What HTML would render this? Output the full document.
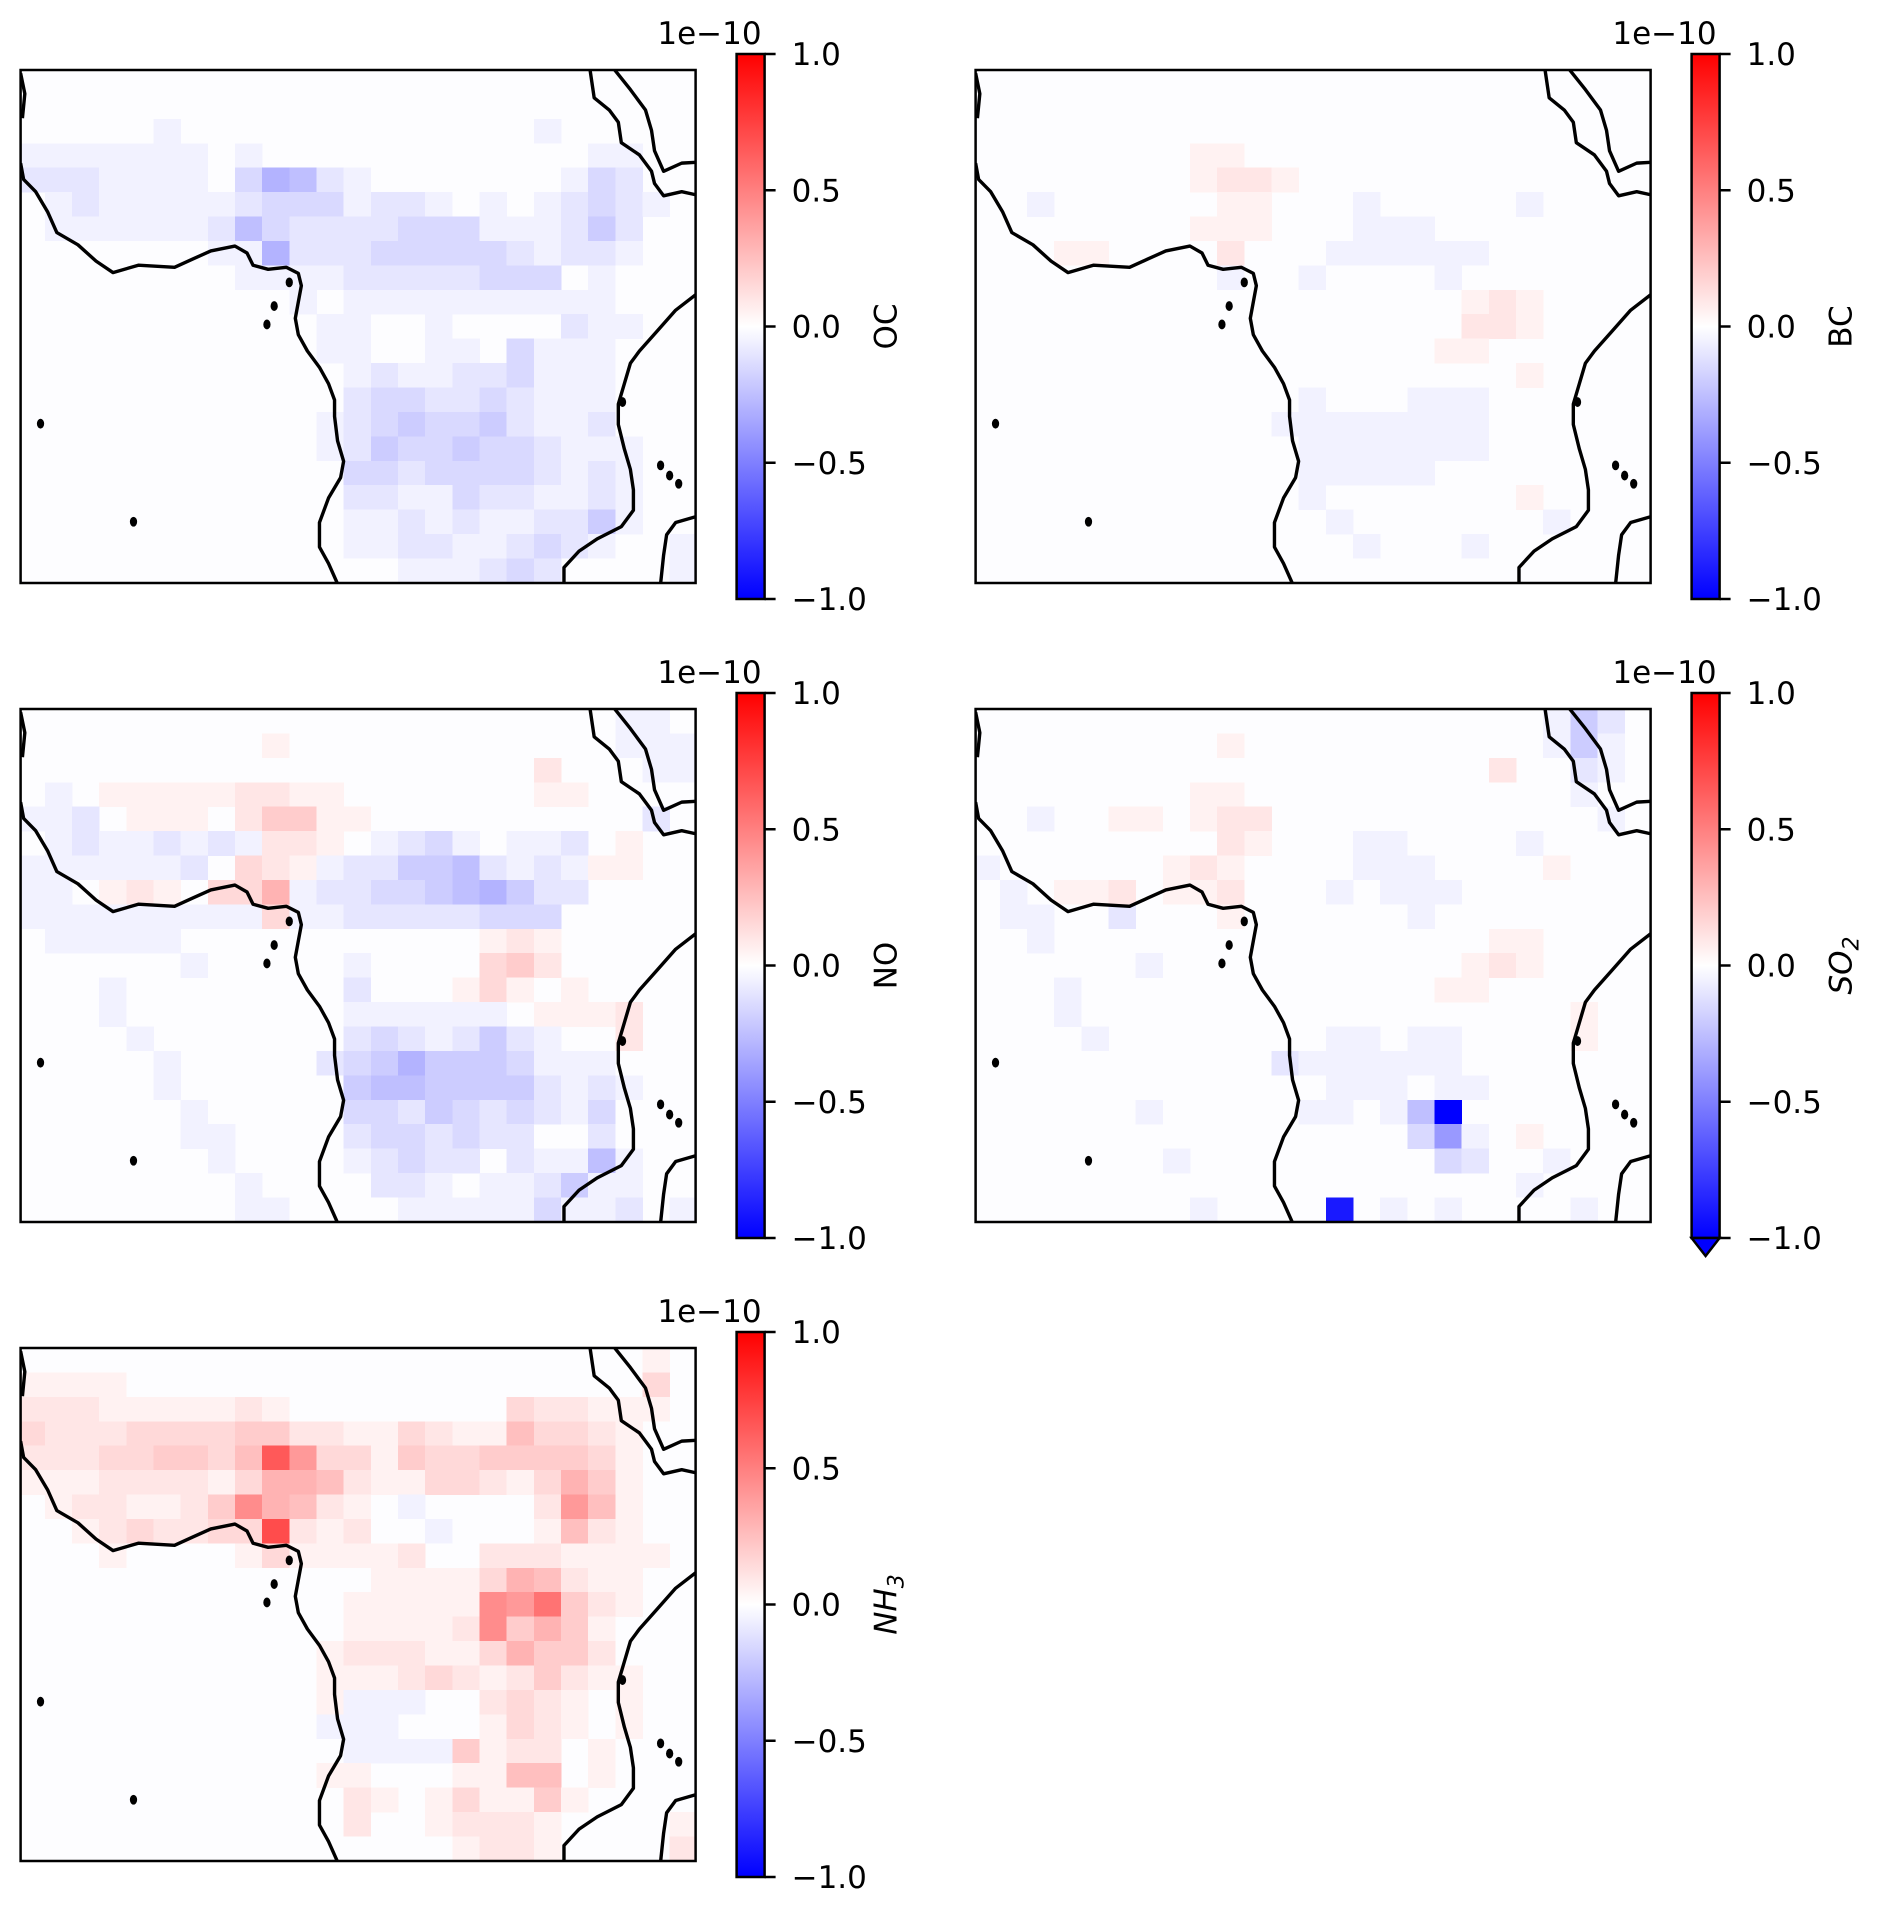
<!DOCTYPE html>
<html><head><meta charset="utf-8"><title>Emission difference maps</title>
<style>
html,body{margin:0;padding:0;background:#fff;}
svg{display:block;font-family:"DejaVu Sans","Liberation Sans",sans-serif;}
</style></head>
<body>
<svg id="fig" xmlns="http://www.w3.org/2000/svg" width="1892" height="1908" viewBox="0 0 1892 1908">
<defs>
<linearGradient id="bwr" x1="0" y1="0" x2="0" y2="1">
<stop offset="0" stop-color="#ff0000"/><stop offset="0.5" stop-color="#ffffff"/><stop offset="1" stop-color="#0000ff"/>
</linearGradient>
</defs>
</svg>
<script>
// Levels: '0' zero, '1'-'9' positive, 'A'-'K' positive 10-20, 'a'-'t' negative 1-20; unit = 0.05e-10
const levelStep = 0.05;
const tickValues = [1.0, 0.5, 0.0, -0.5, -1.0];
const tickLabels = ["1.0", "0.5", "0.0", "\u22120.5", "\u22121.0"];

const ocRows = [
"0000000000000000000000000","0000000000000000000000000","00000a0000000000000a00000",
"aaaaaaa0a000000000000aa00","bbbaaaa0cfeba0000000acb00","0abaaaaabcccabba0a0abcba0",
"0aaaaaabecbbbbcccaaabdb00","0000000aafbbbcccccbabba00","00000000aaaabbbbbccc0a000",
"0000000000a0aaaaaaaaaa000","00000000000aa00a0000baa00","00000000000aa00aa0caaa000",
"000000000000abaabbcaaa000","000000000000bccbbcbaaa000","00000000000abcdccdbaab000",
"00000000000abdccdccbaaa00","000000000000ccbccccbaba00","000000000000bbaacbbaaba00",
"000000000000aababaabbda00","000000000000aabbaabcba00a","00000000000000aaabcb0000a"];

const bcRows = [
"0000000000000000000000000","0000000000000000000000000","0000000000000000000000000",
"0000000011000000000000000","0000000012210000000000000","00a00000011000a00000a0000",
"00000000111000aaa00000000","0001100002000aaaaaa000000","000000000a00a0000a0000000",
"0000000000000000001210000","0000000000000000002210000","0000000000000000011000000",
"0000000000000000000010000","000000000000a000aaa000000","00000000000aaaaaaaa000000",
"000000000000aaaaaaa000000","000000000000aaaaa00000000","000000000000a000000010000",
"0000000000000a0000000a000","00000000000000a000a000000","0000000000000000000000000"];

const noRows = [
"0000000000000000000000aa0","0000000001000000000000aaa","00000000000000000002000aa",
"0a01111122110000000110000","aab01110244110000000000b0","0abaababa2210abca0aab0100",
"aaaaaab0321abbddebaba1100","aa01210336abbccdefdbb0000","aaaaaaaaa3aabbbbbccc00000",
"0aaaaa0000000000012100000","000000a00000a000034200000","000a00000000b000131010000",
"000a00000000aaaaaa0111200","0000a0000000bcbabdba00200","00000a00000bcdfdddcaaa000",
"00000a000000deeddddbaba00","000000a00000ccbdcbcbac000","000000aa0000bccbcbb00b000",
"0000000a0000abcbb0baaea00","00000000a0000bba0aabdaa00","00000000aa0000aaaaacaab0a"];

const so2Rows = [
"000000000000000000000adb0","000000000100000000000ada0","0000000000000000000200ba0",
"0000000011000000000000a00","00a00110122000000000000a0","00000000021000aa0000a0000",
"a0000001210000aaa00001000","0a01120112000a0aaa0000000","0aa00b0001000000a00000000",
"00a0000000000000000110000","000000a000000000001210000","000a000000000000011000000",
"000a000000000000000000100","0000a00000000aa0aa0000100","00000000000baaaaaa0000000",
"0000000000000aaa0aa000000","000000a00000aa0aet0000000","0000000000000000cha010000",
"0000000a000000000cb00a000","00000000000000000000a0000","00000000a0000r0a0a0000a00"];

const nh3Rows = [
"0000000000000000000000010","1111000000000000000000030","2221111121000000003221110",
"3222333344221132115332100","222334435D833143344443100","1112222136652113321364100",
"01221124965210a0000285100","001232233E21200a000152100","0001000013111120022211110",
"0000000000000111136521100","0000000000001111198B42100","0000000000001111294641000",
"0000000000012221136442000","0000000000011123212421100","000000000001aaa0023210100",
"00000000000aaa00013210100","000000000000aaaa412201000","0000000000011000115501000",
"0000000000002101311410000","0000000000002001222100001","0000000000000000122100002"];

const panelNames = ["oc", "bc", "no", "so2", "nh3"];
const panelLabels = ["OC", "BC", "NO", "SO2", "NH3"];

const NS = "http://www.w3.org/2000/svg";
const fig = document.getElementById("fig");
const AX_W = 675, AX_H = 513, CB_DX = 716, CB_W = 28, CB_DY = -16, CB_H = 545;
const positions = [[20.6,70],[975.6,70],[20.6,709],[975.6,709],[20.6,1348]];
const VB = {x:35, y:172, w:1118, h:1256, col0:30, colW:45, rowH:59.8};

function mk(tag, attrs, parent){
  const e = document.createElementNS(NS, tag);
  for (const k in attrs) e.setAttribute(k, attrs[k]);
  (parent||fig).appendChild(e);
  return e;
}
function decode(ch){
  if (ch >= "0" && ch <= "9") return (+ch) * levelStep;
  if (ch >= "A" && ch <= "K") return (10 + ch.charCodeAt(0) - 65) * levelStep;
  if (ch >= "a" && ch <= "t") return -(1 + ch.charCodeAt(0) - 97) * levelStep;
  return 0;
}
function bwr(v){
  v = Math.max(-1, Math.min(1, v));
  let r,g,b;
  if (v < 0){ r = g = Math.round(255*(1+v)); b = 255; }
  else { r = 255; g = b = Math.round(255*(1-v)); }
  return "rgb("+r+","+g+","+b+")";
}
function colX(c){ return VB.col0 + c*VB.colW; }
function rowY(r){ return VB.y + r*VB.rowH; }
function cbY(top, v){ return top + (1 - v)/2*CB_H; }

const coastLines = [
 [[35,400],[40,440],[60,470],[80,520],[95,570],[130,600],[160,640],[188,668],[230,650],[290,655],[320,635],[350,615],[390,603],[410,620],[420,650],[445,660],[475,655],[495,670],[500,700],[495,740],[490,780],[495,820],[510,860],[530,900],[545,940],[555,980],[555,1020],[560,1080],[570,1130],[565,1170],[545,1220],[530,1280],[530,1340],[545,1380],[560,1430]],
 [[1155,720],[1120,760],[1090,810],[1060,860],[1045,890],[1035,940],[1025,990],[1025,1040],[1035,1100],[1045,1150],[1050,1200],[1050,1250],[1030,1290],[990,1320],[960,1350],[935,1390],[935,1430]],
 [[1155,1265],[1120,1280],[1105,1310],[1100,1360],[1095,1430]],
 [[978,170],[985,240],[1010,270],[1025,300],[1030,350],[1060,380],[1080,420],[1085,450],[1100,480],[1130,470],[1155,478]],
 [[1018,170],[1045,220],[1070,270],[1080,320],[1085,370],[1100,420],[1130,400],[1155,398]],
 [[35,180],[42,230],[38,290]]
];
const islands = [[68,1038],[222,1278],[480,692],[455,750],[443,795],[1095,1140],[1110,1165],[1125,1185],[1032,985]];

const allRows = [ocRows, bcRows, noRows, so2Rows, nh3Rows];
panelNames.forEach(function(name, p){
  const ax = positions[p][0], ay = positions[p][1];
  const rowsData = allRows[p];
  const g = mk("g", {});
  
  
  const map = mk("svg", {x:ax, y:ay, width:AX_W, height:AX_H, viewBox:VB.x+" "+VB.y+" "+VB.w+" "+VB.h, preserveAspectRatio:"none"}, g);
  
  
  mk("rect", {x:VB.x, y:VB.y, width:VB.w, height:VB.h, fill:"#fdfdff"}, map);
  rowsData.forEach(function(row, r){
    for (let c = 0; c < row.length; c++){
      const v = decode(row[c]);
      if (v === 0) continue;
      const cell = mk("rect", {x:colX(c), y:rowY(r), width:VB.colW+0.6, height:VB.rowH+0.6, fill:bwr(v), "shape-rendering":"crispEdges"}, map);
      
      
    }
  });
  coastLines.forEach(function(line){
    const pl = mk("polyline", {points:line.map(function(q){return q.join(",");}).join(" "), fill:"none", stroke:"#000", "stroke-width":"3.4", "vector-effect":"non-scaling-stroke", "stroke-linejoin":"round"}, map);
    
    
  });
  islands.forEach(function(q){
    const el = mk("ellipse", {cx:q[0], cy:q[1], rx:6, ry:12, fill:"#000"}, map);
    
    
  });
  const frame = mk("rect", {x:ax, y:ay, width:AX_W, height:AX_H, fill:"none", stroke:"#000", "stroke-width":"2.5"}, g);
  
  

  const cx = ax + CB_DX, cy = ay + CB_DY;
  const cb = mk("rect", {x:cx, y:cy, width:CB_W, height:CB_H, fill:"url(#bwr)", stroke:"#000", "stroke-width":"2.5"}, g);
  
  
  if (name === "so2"){
    const tri = mk("polygon", {points:(cx)+","+(cy+CB_H)+" "+(cx+CB_W)+","+(cy+CB_H)+" "+(cx+CB_W/2)+","+(cy+CB_H+18), fill:"#0000ff", stroke:"#000", "stroke-width":"2.5"}, g);
    
    
  }
  tickValues.forEach(function(tv, i){
    const ty = cbY(cy, tv);
    const tk = mk("line", {x1:cx+CB_W, x2:cx+CB_W+11, y1:ty, y2:ty, stroke:"#000", "stroke-width":"2.5"}, g);
    
    
    const tl = mk("text", {x:cx+CB_W+27, y:ty+11, "font-size":"31", fill:"#000"}, g);
    tl.textContent = tickLabels[i];
    
    
  });
  const off = mk("text", {x:cx+CB_W-3, y:cy-10, "font-size":"31", "text-anchor":"end", fill:"#000"}, g);
  off.textContent = "1e\u221210";
  
  
  const lx = ax + 876, ly = cy + CB_H/2;
  const lab = mk("text", {x:lx, y:ly, "font-size":"31", "text-anchor":"middle", transform:"rotate(-90 "+lx+" "+ly+")", fill:"#000"}, g);
  
  
  const lt = panelLabels[p];
  if (lt === "SO2" || lt === "NH3"){
    const t1 = mk("tspan", {"font-style":"italic"}, lab);
    t1.textContent = lt.slice(0, 2);
    const t2 = mk("tspan", {"font-style":"italic", "font-size":"22", dy:"7"}, lab);
    t2.textContent = lt.slice(2);
  } else {
    lab.textContent = lt;
  }
});
</script>
</body></html>
